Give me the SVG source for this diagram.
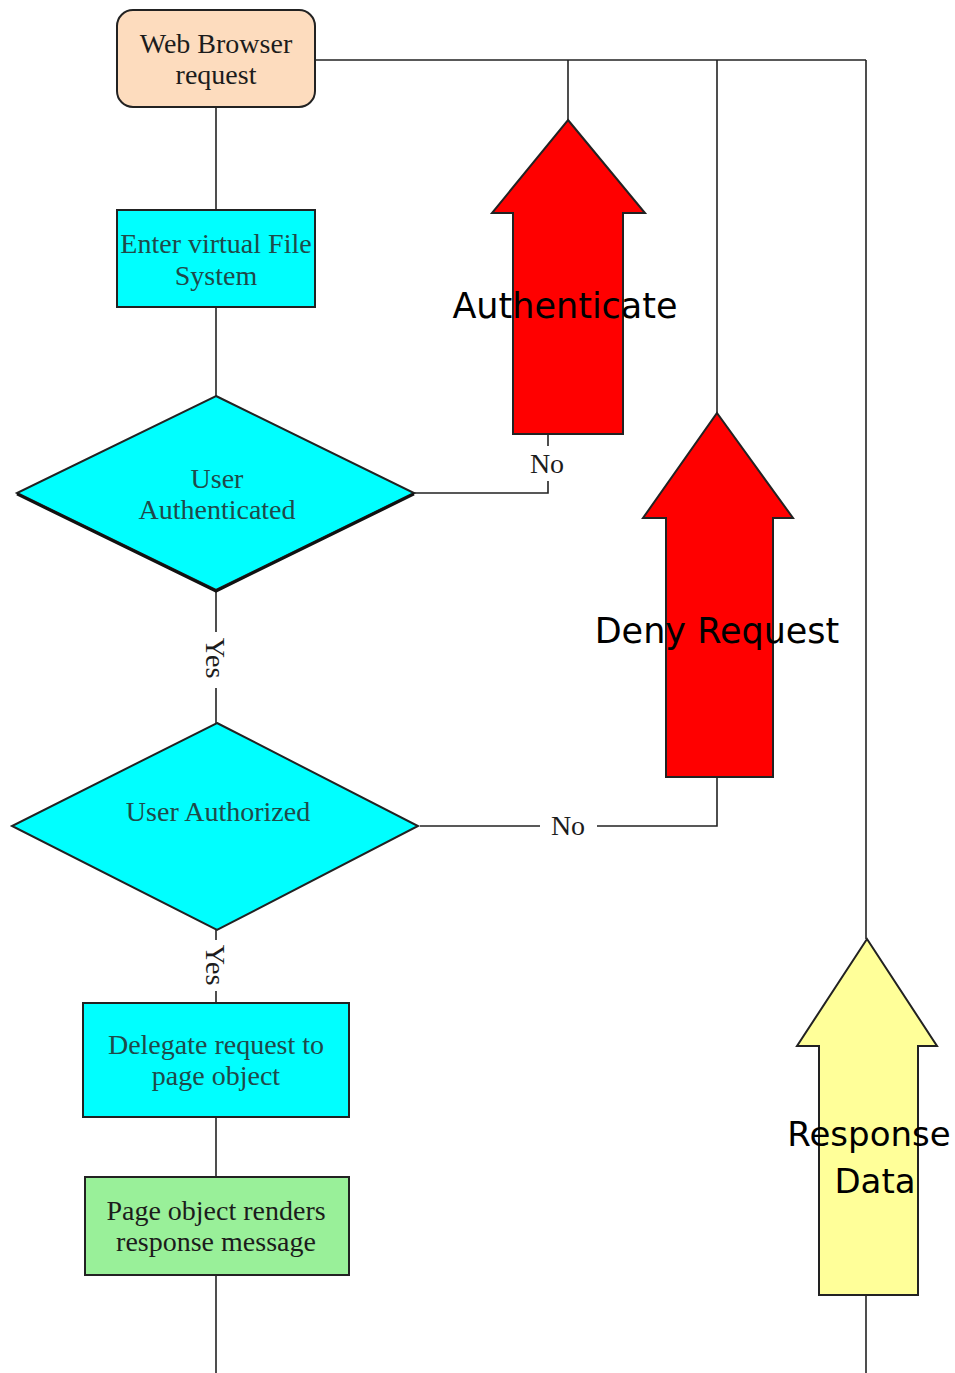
<svg xmlns="http://www.w3.org/2000/svg" width="955" height="1373" viewBox="0 0 955 1373">
<style>
.shape{stroke:#222;stroke-width:2}
.conn{fill:none;stroke:#222;stroke-width:1.6}
.serif{font-family:"Liberation Serif","Times New Roman",serif;font-size:28px;text-anchor:middle}
.dark{fill:#1c1c1c}
.teal{fill:#1f4a4a}
.big{font-family:"DejaVu Sans",Verdana,sans-serif;font-size:35px;text-anchor:middle;fill:#000}
</style>
<rect width="955" height="1373" fill="#fff"/>
<g id="connectors">
<polyline class="conn" points="315,60 866,60"/>
<line class="conn" x1="216" y1="107" x2="216" y2="210"/>
<line class="conn" x1="216" y1="307" x2="216" y2="397"/>
<line class="conn" x1="216" y1="590" x2="216" y2="632"/>
<line class="conn" x1="216" y1="688" x2="216" y2="723"/>
<line class="conn" x1="216" y1="930" x2="216" y2="940"/>
<line class="conn" x1="216" y1="991" x2="216" y2="1003"/>
<line class="conn" x1="216" y1="1117" x2="216" y2="1177"/>
<line class="conn" x1="216" y1="1275" x2="216" y2="1373"/>
<line class="conn" x1="568" y1="60" x2="568" y2="120"/>
<line class="conn" x1="717" y1="60" x2="717" y2="413"/>
<line class="conn" x1="866" y1="60" x2="866" y2="939"/>
<line class="conn" x1="866" y1="1295" x2="866" y2="1373"/>
<polyline class="conn" points="414,493 548,493 548,481"/>
<line class="conn" x1="548" y1="446" x2="548" y2="434"/>
<polyline class="conn" points="420,826 540,826"/>
<polyline class="conn" points="597,826 717,826 717,777"/>
<text class="serif dark" x="547" y="473">No</text>
<text class="serif dark" x="568" y="835">No</text>
<text class="serif dark" transform="translate(206,658) rotate(90)" y="0">Yes</text>
<text class="serif dark" transform="translate(206,965) rotate(90)" y="0">Yes</text>
</g>
<g id="web-browser">
<rect class="shape" x="117" y="10" width="198" height="97" rx="16" fill="#fddcbe"/>
<text class="serif dark" x="216" y="53">Web Browser</text>
<text class="serif dark" x="216" y="84">request</text>
</g>
<g id="enter-vfs">
<rect class="shape" x="117" y="210" width="198" height="97" fill="#00ffff"/>
<text class="serif teal" x="216" y="253">Enter virtual File</text>
<text class="serif teal" x="216" y="285">System</text>
</g>
<g id="user-authenticated">
<polygon class="shape" points="216,396 414,493 216,590 17,493" fill="#00ffff"/>
<polyline points="17,494 216,591 414,494" fill="none" stroke="#111" stroke-width="3"/>
<text class="serif teal" x="217" y="488">User</text>
<text class="serif teal" x="217" y="519">Authenticated</text>
</g>
<g id="user-authorized">
<polygon class="shape" points="217,723 418,826 217,930 12,826" fill="#00ffff"/>
<text class="serif teal" x="218" y="821">User Authorized</text>
</g>
<g id="delegate">
<rect class="shape" x="83" y="1003" width="266" height="114" fill="#00ffff"/>
<text class="serif teal" x="216" y="1054">Delegate request to</text>
<text class="serif teal" x="216" y="1085">page object</text>
</g>
<g id="page-render">
<rect class="shape" x="85" y="1177" width="264" height="98" fill="#99f099"/>
<text class="serif dark" x="216" y="1220">Page object renders</text>
<text class="serif dark" x="216" y="1251">response message</text>
</g>
<g id="authenticate">
<polygon class="shape" points="568,120 645,213 623,213 623,434 513,434 513,213 492,213" fill="#ff0000"/>
<text class="big" x="565" y="318">Authenticate</text>
</g>
<g id="deny-request">
<polygon class="shape" points="717,413 793,518 773,518 773,777 666,777 666,518 643,518" fill="#ff0000"/>
<text class="big" x="717" y="643">Deny Request</text>
</g>
<g id="response-data">
<polygon class="shape" points="867,939 937,1046 918,1046 918,1295 819,1295 819,1046 797,1046" fill="#ffff99"/>
<text class="big" x="869" y="1146" style="font-size:34px">Response</text>
<text class="big" x="875" y="1193" style="font-size:34px">Data</text>
</g>
</svg>
